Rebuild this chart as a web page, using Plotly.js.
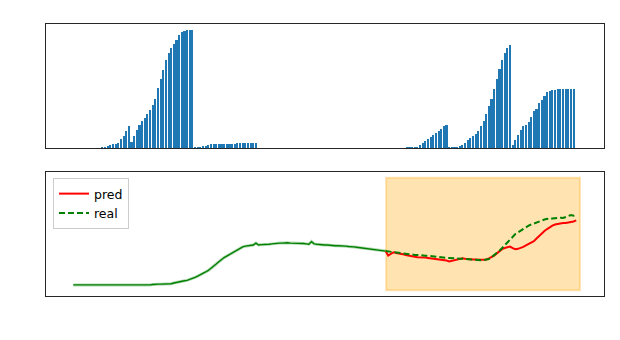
<!DOCTYPE html>
<html>
<head>
<meta charset="utf-8">
<script src="https://cdn.plot.ly/plotly-3.0.1.min.js"></script>
<style>html,body{margin:0;padding:0;background:#fff;}#chart{width:620px;height:340px;}</style>
</head>
<body>
<div id="chart"></div>
<script>
// ---- data ----
const barValues = [
  0,0,0,0,0,0,0,0,0,0,0,
  0.36,0.36,0.64,1.03,1.19,1.19,1.47,2.58,3.42,4.81,6.19,1.75,3.42,5.08,6.47,7.58,8.42,9.53,10.64,12.03,
  13.69,16.75,19.25,21.75,24.53,26.47,27.86,28.97,30.08,31.47,32.31,32.58,32.86,32.86,32.86,
  0.28,0.28,0.36,0.64,0.64,0.92,1.19,1.19,1.19,1.19,1.19,1.19,1.19,1.19,1.19,1.19,
  1.47,1.47,1.47,1.47,1.47,1.47,1.47,1.47,
  0,0,0,0,0,0,0,0,0,0,0,0,0,0,0,0,0,0,0,0,0,0,0,0,0,0,0,0,
  0,0,0,0,0,0,0,0,0,0,0,0,0,0,0,0,0,0,0,0,0,0,0,0,0,0,0,0,
  0.36,0.36,0.36,0.36,0.36,0.92,1.47,2.03,2.58,3.14,3.69,4.25,4.81,5.36,6.19,6.47,
  0.36,0.36,0.36,0.36,0.64,0.92,1.47,2.31,2.86,3.42,3.97,4.81,6.19,7.58,9.53,11.75,13.69,16.47,19.25,22.03,24.53,26.47,27.86,28.69,
  0.92,2.31,3.69,5.08,6.19,6.47,7.31,8.69,10.36,10.92,12.58,13.42,14.53,15.64,15.92,16.19,16.19,
  16.47,16.47,16.47,16.47,16.47,16.47,16.47,
  0
];
const realValues = [
  1.6,1.6,1.6,1.6,1.6,1.6,1.6,1.6,1.6,1.6,
  1.6,1.6,1.6,1.5,1.6,1.6,1.6,1.6,1.6,1.6,
  1.5,1.6,1.6,1.6,1.6,1.6,1.5,1.6,1.6,1.6,
  1.7,1.8,1.8,1.8,1.8,1.9,1.9,
  1.9,2.1,2.3,2.5,2.6,2.7,2.8,3.0,3.3,3.6,3.9,4.2,4.6,5.0,5.4,5.9,6.5,7.1,7.7,8.3,8.8,9.2,9.6,10.0,
  10.5,11.0,11.3,11.6,11.8,11.9,12.0,12.1,12.6,12.1,12.2,12.2,12.3,12.3,12.4,12.5,12.5,12.6,12.6,12.7,
  12.7,12.6,12.6,12.5,12.5,12.6,12.5,12.4,12.3,13.0,12.4,12.3,12.2,12.2,12.1,12.1,12.0,12.0,11.9,11.9,
  11.9,11.8,11.8,11.7,11.7,11.6,11.5,11.4,11.4,11.3,11.2,11.1,11.0,10.9,10.8,10.7,10.6,10.5,10.4,10.3,
  10.2,10.1,10.0,9.9,9.8,9.8,9.7,9.6,9.5,9.5,9.4,9.4,9.3,9.3,9.2,9.1,9.0,8.9,8.9,8.8,
  8.7,8.7,8.6,8.6,8.6,8.5,8.5,8.4,8.4,8.3,8.3,8.2,8.2,8.1,8.1,8.2,8.4,8.9,9.4,9.9,
  10.6,11.3,12.1,12.9,13.7,14.4,15.0,15.4,15.9,16.3,16.8,17.2,17.5,17.8,18.1,18.4,18.6,18.8,19.0,18.9,
  19.1,19.2,19.2,19.3,19.2,19.4,19.6,20.0,19.8,20.1
];
const predStart = 118;
const predValues = [
  10.5,9.3,9.8,10.2,10.0,9.9,9.8,9.6,9.4,9.2,9.1,9.0,8.9,8.9,8.8,8.8,8.7,8.6,8.6,8.5,
  8.4,8.3,8.2,8.0,7.8,8.0,8.2,8.4,8.5,8.6,8.5,8.4,8.4,8.3,8.3,8.2,8.2,8.2,8.3,8.6,
  8.9,9.3,9.9,10.5,11.0,11.3,11.6,11.7,11.3,11.0,11.1,11.3,11.6,12.0,12.4,12.7,13.1,13.8,14.5,15.2,
  15.8,16.3,16.8,17.2,17.5,17.7,17.8,17.9,17.9,18.0,18.1,18.3,18.6
];
const xTicks = [0,25,50,75,100,125,150,175,200];
const topYTicks = [0,10,20,30];
const botYTicks = [0,10,20];
const legendNames = ['pred','real'];

// ---- build ----
const idx = barValues.map((_, i) => i);
const realIdx = realValues.map((_, i) => i);
const histX = realIdx.slice(0, predStart + 1);
const histY = realValues.slice(0, predStart + 1);
const realTailX = realIdx.slice(predStart);
const realTailY = realValues.slice(predStart);
const predX = predValues.map((_, i) => predStart + i);

const traces = [
  {type:'bar', x: idx, y: barValues, width: 0.8, marker:{color:'#1f77b4', line:{width:0}},
   xaxis:'x', yaxis:'y', showlegend:false, hoverinfo:'skip'},
  {type:'scatter', mode:'lines', x: histX, y: histY, line:{color:'rgba(0,128,0,0.3)', width:3},
   xaxis:'x2', yaxis:'y2', showlegend:false},
  {type:'scatter', mode:'lines', x: histX, y: histY, line:{color:'green', width:1.4},
   xaxis:'x2', yaxis:'y2', showlegend:false},
  {type:'scatter', mode:'lines', name: legendNames[0], x: predX, y: predValues,
   line:{color:'red', width:2}, xaxis:'x2', yaxis:'y2'},
  {type:'scatter', mode:'lines', name: legendNames[1], x: realTailX, y: realTailY,
   line:{color:'green', width:2, dash:'6px,3px'}, xaxis:'x2', yaxis:'y2'}
];

const xr = [-10.3, 200.3];
const axisCommon = {showline:true, mirror:true, linecolor:'#262626', linewidth:1,
  ticks:'outside', tickcolor:'#ffffff', ticklen:3, tickwidth:1.2,
  showticklabels:false, showgrid:false, zeroline:false, fixedrange:true};

const layout = {
  width:620, height:340,
  margin:{l:0, r:0, t:0, b:0},
  paper_bgcolor:'#ffffff', plot_bgcolor:'#ffffff',
  font:{family:'DejaVu Sans', size:12, color:'#1a1a1a'},
  bargap:0,
  xaxis: Object.assign({}, axisCommon, {domain:[46/620, 603.5/620], range:xr, tickvals:xTicks, anchor:'y'}),
  yaxis: Object.assign({}, axisCommon, {domain:[1-148.3/340, 1-24.3/340], range:[0, 34.45], tickvals:topYTicks, anchor:'x'}),
  xaxis2: Object.assign({}, axisCommon, {domain:[46/620, 603.5/620], range:xr, tickvals:xTicks, anchor:'y2'}),
  yaxis2: Object.assign({}, axisCommon, {domain:[1-296/340, 1-171.7/340], range:[-1.32, 31.4], tickvals:botYTicks, anchor:'x2'}),
  shapes:[{type:'rect', xref:'x2', yref:'y2', x0:118.2, x1:191.4, y0:0.18, y1:29.8,
    fillcolor:'rgba(255,165,0,0.3)', line:{color:'rgba(255,165,0,0.3)', width:2}, layer:'below'}],
  legend:{x:53/620, y:1-178/340, xanchor:'left', yanchor:'top', bgcolor:'rgba(255,255,255,0.85)',
    bordercolor:'#cccccc', borderwidth:1, font:{family:'DejaVu Sans', size:12.5, color:'#000000'},
    tracegroupgap:0, itemwidth:30}
};

Plotly.newPlot('chart', traces, layout, {displayModeBar:false, staticPlot:true});
</script>
</body>
</html>
